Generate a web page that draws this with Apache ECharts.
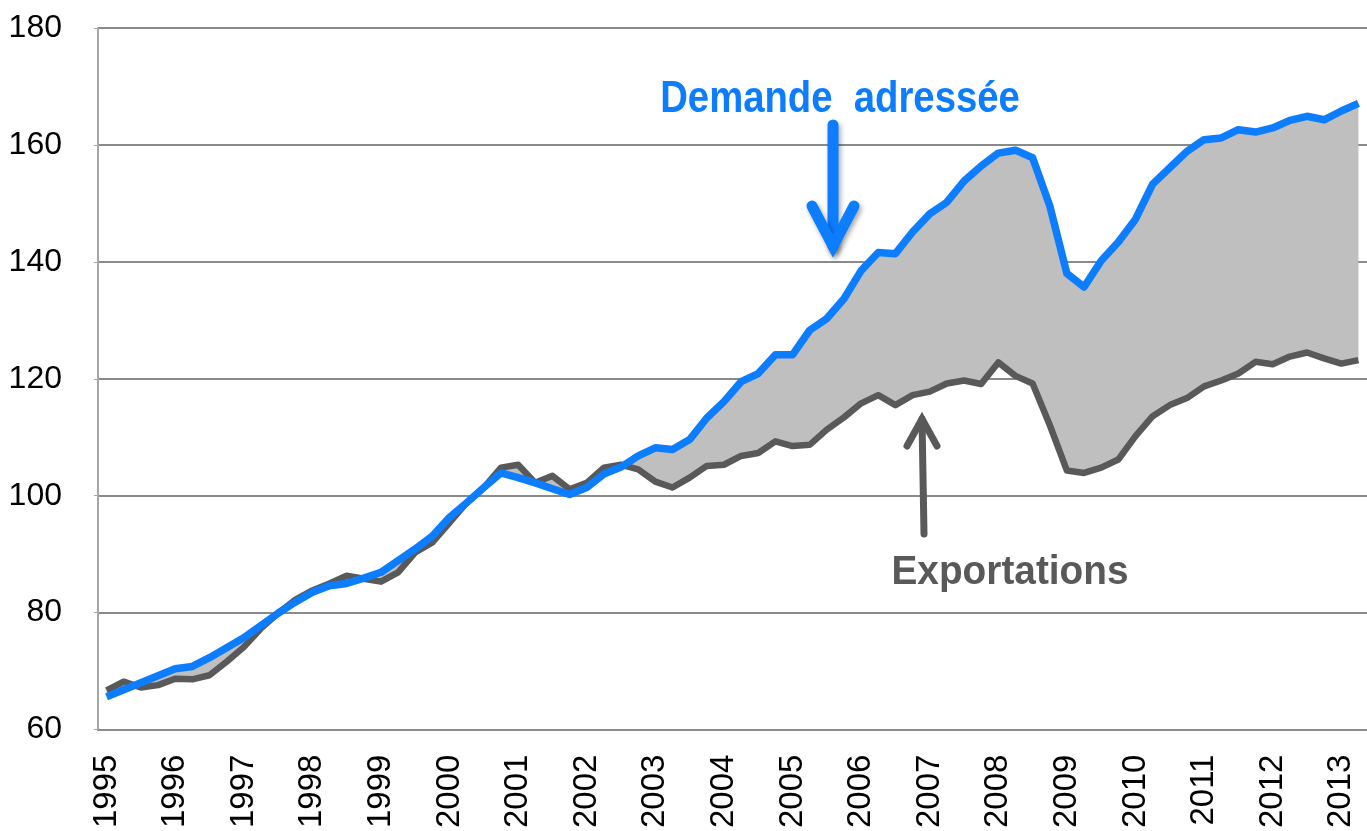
<!DOCTYPE html>
<html>
<head>
<meta charset="utf-8">
<script src="https://cdn.jsdelivr.net/npm/echarts@6/dist/echarts.min.js"></script>
<style>
  html, body { margin: 0; padding: 0; background: #ffffff; }
  #chart { width: 1367px; height: 831px; }
</style>
</head>
<body>
<div id="chart"></div>
<script>
// Quarterly data, 1995Q1 .. 2013Q2
var years = [];
for (var y = 1995; y <= 2013; y++) years.push(y);
var quarters = [];
years.forEach(function (yr) { ['T1','T2','T3','T4'].forEach(function (q) { quarters.push(yr + ' ' + q); }); });
quarters = quarters.slice(0, 74);

var demandeAdressee = [
  65.6, 66.8, 68.0, 69.2, 70.4, 70.8, 72.3, 74.0,
  75.7, 77.8, 79.9, 81.8, 83.5, 84.6, 85.0, 85.9,
  86.9, 88.9, 90.9, 93.1, 96.3, 98.8, 101.4, 103.9,
  103.1, 102.2, 101.2, 100.2, 101.4, 103.7, 104.9, 106.8,
  108.2, 107.9, 109.6, 113.3, 116.1, 119.5, 120.9, 124.1,
  124.1, 128.3, 130.3, 133.7, 138.5, 141.6, 141.4, 145.1,
  148.2, 150.2, 153.8, 156.4, 158.6, 159.1, 157.8, 149.6,
  138.0, 135.7, 140.2, 143.4, 147.3, 153.3, 156.1, 158.9,
  160.9, 161.2, 162.6, 162.2, 162.9, 164.2, 164.9, 164.3,
  165.8, 167.1
];
var exportations = [
  66.7, 68.2, 67.2, 67.6, 68.7, 68.6, 69.3, 71.6,
  74.1, 77.3, 79.9, 82.2, 83.8, 85.0, 86.3, 85.8,
  85.3, 86.9, 90.3, 92.0, 95.4, 98.8, 101.4, 104.8,
  105.3, 102.2, 103.4, 101.1, 102.2, 104.8, 105.3, 104.5,
  102.4, 101.4, 103.1, 105.1, 105.3, 106.8, 107.3, 109.3,
  108.5, 108.7, 111.3, 113.4, 115.8, 117.2, 115.5, 117.2,
  117.8, 119.2, 119.7, 119.1, 122.8, 120.5, 119.2, 112.1,
  104.3, 103.9, 104.8, 106.2, 110.2, 113.6, 115.5, 116.7,
  118.7, 119.7, 120.9, 122.9, 122.5, 123.8, 124.5, 123.5,
  122.6, 123.2
];
var yTicks = { min: 60, max: 180, interval: 20 };
var labelDemande = 'Demande  adressée';
var labelExport = 'Exportations';

var ecart = demandeAdressee.map(function (v, i) { return +(v - exportations[i]).toFixed(2); });

var chart = echarts.init(document.getElementById('chart'), null, { renderer: 'canvas' });
var sansFont = '"Liberation Sans", Arial, sans-serif';

var option = {
  backgroundColor: '#ffffff',
  animation: false,
  grid: { left: 98, top: 28, width: 1276, height: 705, containLabel: false },
  xAxis: {
    type: 'category',
    data: quarters,
    boundaryGap: true,
    axisLine: { show: true, lineStyle: { color: '#8c8c8c', width: 2 } },
    axisTick: { show: false },
    splitLine: { show: false },
    axisLabel: {
      interval: 3,
      rotate: 90,
      margin: 25,
      fontSize: 33,
      color: '#000000',
      fontFamily: sansFont,
      formatter: function (v) { return v.split(' ')[0]; }
    }
  },
  yAxis: {
    type: 'value',
    min: yTicks.min, max: yTicks.max, interval: yTicks.interval,
    axisLine: { show: true, lineStyle: { color: '#a6a6a6', width: 2 } },
    axisTick: { show: true, length: 4, lineStyle: { color: '#a6a6a6', width: 1 } },
    splitLine: { show: true, lineStyle: { color: '#8a8a8a', width: 2 } },
    axisLabel: {
      fontSize: 32, color: '#000000', margin: 36,
      fontFamily: sansFont
    }
  },
  series: [
    {
      name: 'base', type: 'line', data: exportations,
      stack: 'gap', stackStrategy: 'all',
      symbol: 'none', lineStyle: { width: 0, opacity: 0 },
      silent: true, z: 1
    },
    {
      name: 'ecart', type: 'line', data: ecart,
      stack: 'gap', stackStrategy: 'all',
      symbol: 'none', lineStyle: { width: 0, opacity: 0 },
      areaStyle: { color: '#bfbfbf', opacity: 1 },
      silent: true, z: 1
    },
    {
      name: labelExport, type: 'line', data: exportations,
      symbol: 'none', lineStyle: { color: '#595959', width: 6.5, join: 'round' },
      z: 3
    },
    {
      name: labelDemande, type: 'line', data: demandeAdressee,
      symbol: 'none', lineStyle: { color: '#0d7dff', width: 7.5, join: 'round' },
      z: 4
    }
  ],
  graphic: [
    {
      type: 'text', z: 10, x: 840, y: 100, scaleX: 0.87,
      style: {
        text: labelDemande, x: 0, y: 0, align: 'center', verticalAlign: 'middle',
        fill: '#0d7dff', font: 'bold 44px ' + sansFont
      }
    },
    {
      type: 'text', z: 10, x: 1010, y: 573, scaleX: 0.97,
      style: {
        text: labelExport, x: 0, y: 0, align: 'center', verticalAlign: 'middle',
        fill: '#595959', font: 'bold 40px ' + sansFont
      }
    },
    {
      type: 'polyline', z: 10,
      shape: { points: [[833, 125], [833, 246]] },
      style: { stroke: '#0d7dff', lineWidth: 11, lineCap: 'round',
        shadowBlur: 5, shadowOffsetX: 2, shadowOffsetY: 3, shadowColor: 'rgba(0,0,0,0.35)' }
    },
    {
      type: 'polyline', z: 10,
      shape: { points: [[812, 206], [833, 246], [854, 206]] },
      style: { stroke: '#0d7dff', lineWidth: 11, lineCap: 'round', lineJoin: 'miter', fill: null,
        shadowBlur: 5, shadowOffsetX: 2, shadowOffsetY: 3, shadowColor: 'rgba(0,0,0,0.35)' }
    },
    {
      type: 'polyline', z: 10,
      shape: { points: [[924, 534], [922, 419]] },
      style: { stroke: '#595959', lineWidth: 7, lineCap: 'round' }
    },
    {
      type: 'polyline', z: 10,
      shape: { points: [[907, 446], [922, 419], [937, 446]] },
      style: { stroke: '#595959', lineWidth: 7, lineCap: 'round', lineJoin: 'miter', fill: null }
    }
  ]
};
chart.setOption(option);
</script>
</body>
</html>
